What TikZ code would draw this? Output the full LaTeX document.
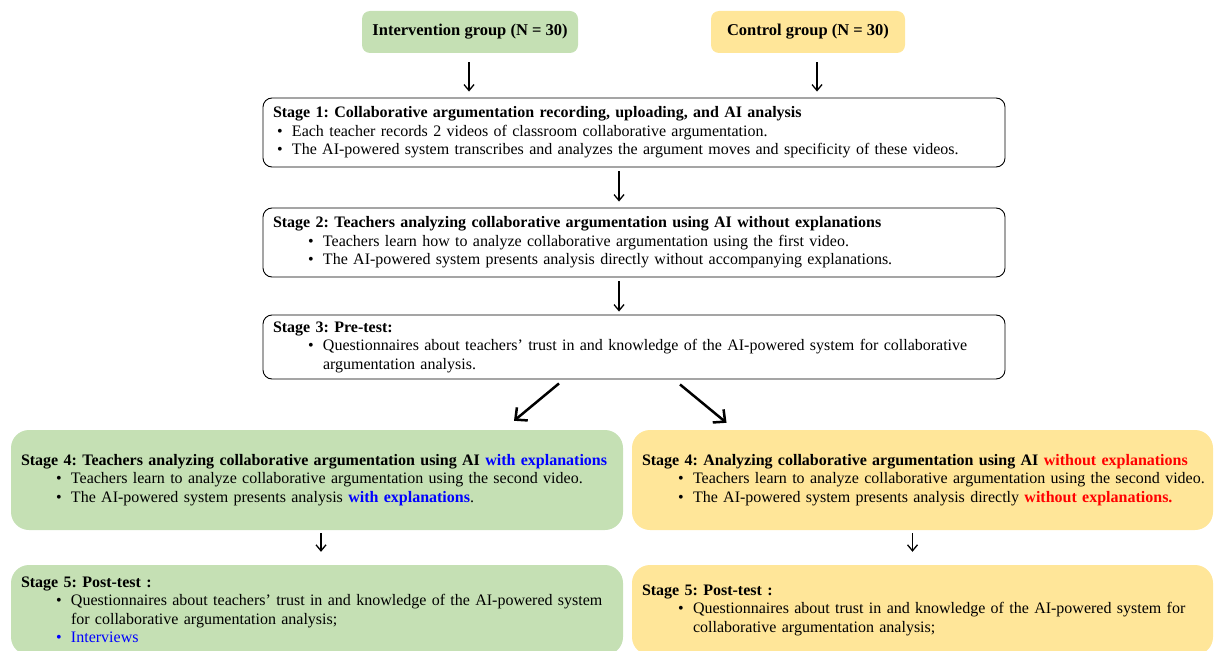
\documentclass[tikz,border=0pt]{standalone}
\usepackage{fontspec}
\setmainfont{Liberation Serif}
\usetikzlibrary{positioning,arrows.meta}
\frenchspacing

% fills and highlight colours
\definecolor{introgreen}{HTML}{C5E0B4}
\definecolor{ctrlyellow}{HTML}{FFE699}
\definecolor{withblue}{HTML}{0000FF}
\definecolor{withoutred}{HTML}{FF0000}

% bullet line with its indent from the text edge
\newcommand{\bul}[2][4pt]{\mbox{\hspace*{#1}\makebox[15pt][l]{\textbullet}#2}}
\newcommand{\wrapline}[2][19pt]{\hspace*{#1}#2}

\tikzset{
    groupbox/.style={rounded corners=8pt, minimum height=42pt, inner xsep=10pt,
        font=\fontsize{16.5}{19}\selectfont\bfseries},
    stagebox/.style={draw=black, line width=0.9pt, rounded corners=9pt, fill=white,
        align=left, inner xsep=10pt, inner ysep=0pt, text width=#1,
        font=\fontsize{16}{18.5}\selectfont},
    armbox/.style={rounded corners=18pt, align=left, inner xsep=10pt, inner ysep=0pt,
        text width=#1, font=\fontsize{16}{18.5}\selectfont},
    arr/.style={line width=1.3pt, -{Straight Barb[length=6pt,width=10pt]}},
    splitarr/.style={line width=2.5pt, -{Straight Barb[length=9pt,width=17pt]}}
}

\begin{document}
\begin{tikzpicture}[x=1pt, y=-1pt]
    % page frame
    \useasboundingbox (0,0) rectangle (1214,650);
    \clip (0,0) rectangle (1214,650);

    % the two groups
    \node[groupbox, fill=introgreen, minimum width=216pt] (intervention) at (470,32) {Intervention group (N = 30)};
    \node[groupbox, fill=ctrlyellow, minimum width=194pt] (control) at (808,32) {Control group (N = 30)};

    % shared stages
    \node[stagebox=722pt, minimum height=69pt] (stage1) at (634,132.5) {%
        \textbf{Stage 1: Collaborative argumentation recording, uploading, and AI analysis}\\
        \bul{Each teacher records 2 videos of classroom collaborative argumentation.}\\
        \bul{The AI-powered system transcribes and analyzes the argument moves and specificity of these videos.}};

    \node[stagebox=722pt, minimum height=69pt] (stage2) at (634,242.5) {%
        \textbf{Stage 2: Teachers analyzing collaborative argumentation using AI without explanations}\\
        \bul[35pt]{Teachers learn how to analyze collaborative argumentation using the first video.}\\
        \bul[35pt]{The AI-powered system presents analysis directly without accompanying explanations.}};

    \node[stagebox=722pt, minimum height=64pt] (stage3) at (634,347) {%
        \textbf{Stage 3: Pre-test:}\\
        \bul[35pt]{Questionnaires about teachers' trust in and knowledge of the AI-powered system for collaborative}\\
        \wrapline[50pt]{argumentation analysis.}};

    % intervention arm
    \node[armbox=592pt, fill=introgreen, minimum height=100pt] (stage4a) at (317,480) {%
        \textbf{Stage 4: Teachers analyzing collaborative argumentation using AI \textcolor{withblue}{with explanations}}\\
        \bul[35pt]{Teachers learn to analyze collaborative argumentation using the second video.}\\
        \bul[35pt]{The AI-powered system presents analysis \textbf{\textcolor{withblue}{with explanations}}.}};

    \node[armbox=592pt, fill=introgreen, minimum height=90pt] (stage5a) at (317,610) {%
        \textbf{Stage 5: Post-test :}\\
        \bul[35pt]{Questionnaires about teachers' trust in and knowledge of the AI-powered system}\\
        \wrapline[50pt]{for collaborative argumentation analysis;}\\
        \textcolor{withblue}{\bul[35pt]{Interviews}}};

    % control arm
    \node[armbox=561pt, fill=ctrlyellow, minimum height=100pt] (stage4b) at (922.5,480) {%
        \textbf{Stage 4: Analyzing collaborative argumentation using AI \textcolor{withoutred}{without explanations}}\\
        \bul[36pt]{Teachers learn to analyze collaborative argumentation using the second video.}\\
        \bul[36pt]{The AI-powered system presents analysis directly \textbf{\textcolor{withoutred}{without explanations.}}}};

    \node[armbox=561pt, fill=ctrlyellow, minimum height=90pt] (stage5b) at (922.5,610) {%
        \textbf{Stage 5: Post-test :}\\
        \bul[36pt]{Questionnaires about trust in and knowledge of the AI-powered system for}\\
        \wrapline[51pt]{collaborative argumentation analysis;}};

    % arrows between the stages
    \draw[arr] ([shift={(-1,9)}]intervention.south) -- ([shift={(-165,-6)}]stage1.north);
    \draw[arr] ([shift={(9,9)}]control.south) -- ([shift={(183,-6)}]stage1.north);
    \draw[arr] ([shift={(-15,4)}]stage1.south) -- ([shift={(-15,-6)}]stage2.north);
    \draw[arr] ([shift={(-15,4)}]stage2.south) -- ([shift={(-15,-3)}]stage3.north);
    \draw[splitarr] ([shift={(-75,4)}]stage3.south) -- ([shift={(197,-9)}]stage4a.north);
    \draw[splitarr] ([shift={(46,5)}]stage3.south) -- ([shift={(-196,-7)}]stage4b.north);
    \draw[arr] ([shift={(4,3)}]stage4a.south) -- ([shift={(4,-13)}]stage5a.north);
    \draw[arr] ([shift={(-10,3)}]stage4b.south) -- ([shift={(-10,-13)}]stage5b.north);
\end{tikzpicture}
\end{document}
